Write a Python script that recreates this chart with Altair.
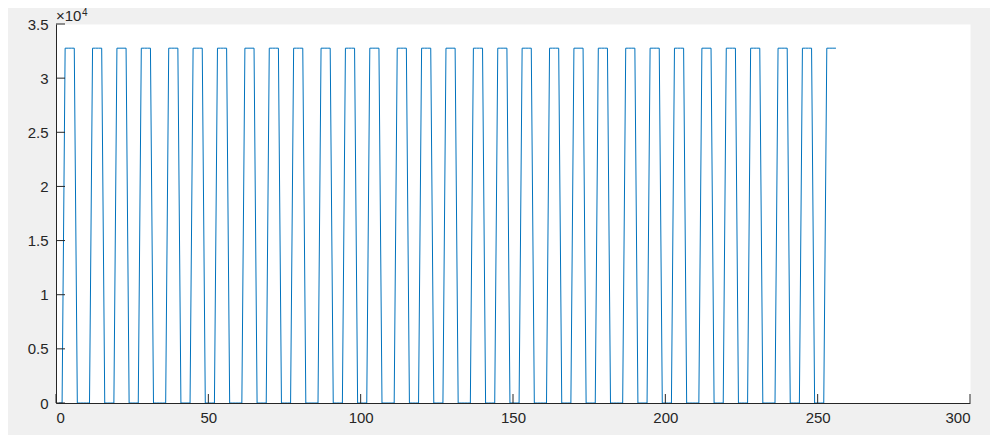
import altair as alt
import pandas as pd

# ---- data ----
N_SAMPLES = 256                     # samples are numbered 1..256
HIGH_VALUE = 32767                  # level of every pulse
LOW_VALUE = 0
PULSE_STARTS = [3, 12, 20, 28, 37, 45, 53, 62, 70, 78, 87, 95, 103, 112, 120, 128,
                137, 145, 153, 162, 170, 178, 187, 195, 203, 212, 220, 228, 237, 245, 253]
PULSE_LENGTH = 4                    # samples held high in each pulse

X_TICKS = [0, 50, 100, 150, 200, 250, 300]
Y_TICKS = [0, 5000, 10000, 15000, 20000, 25000, 30000, 35000]
Y_TICK_LABELS = ["0", "0.5", "1", "1.5", "2", "2.5", "3", "3.5"]
EXPONENT_BASE = "×10"
EXPONENT_POWER = "4"

# ---- tables ----
high = set()
for s in PULSE_STARTS:
    for k in range(PULSE_LENGTH):
        high.add(s + k)
samples = list(range(1, N_SAMPLES + 1))
signal = pd.DataFrame({
    "sample": samples,
    "value": [HIGH_VALUE if s in high else LOW_VALUE for s in samples],
})
xt = pd.DataFrame({"sample": X_TICKS})
yt = pd.DataFrame({"value": Y_TICKS, "label": Y_TICK_LABELS})

W, H = 914, 379
AX = "#262626"
FONT = "Liberation Sans"
FS = 15

label_map = "{" + ",".join(f"'{v}':'{l}'" for v, l in zip(Y_TICKS, Y_TICK_LABELS)) + "}"

xscale = alt.Scale(domain=[0, 300], nice=False, zero=False)
yscale = alt.Scale(domain=[0, 35000], nice=False)

xaxis = alt.Axis(values=X_TICKS, title=None, ticks=False, grid=False,
                 domainColor=AX, domainWidth=1, labelColor=AX,
                 labelFont=FONT, labelFontSize=FS, labelPadding=7)
yaxis = alt.Axis(values=Y_TICKS, title=None, ticks=False, grid=False,
                 domainColor=AX, domainWidth=1, labelColor=AX,
                 labelFont=FONT, labelFontSize=FS, labelPadding=8,
                 labelExpr=f"{label_map}[datum.value + '']")

line = alt.Chart(signal).mark_line(color="#0072bd", strokeWidth=1, clip=True).encode(
    x=alt.X("sample:Q", scale=xscale, axis=xaxis),
    y=alt.Y("value:Q", scale=yscale, axis=yaxis),
)

xticks = alt.Chart(xt).mark_rule(color=AX, strokeWidth=1).encode(
    x=alt.X("sample:Q", scale=xscale, axis=xaxis),
    y=alt.value(H),
    y2=alt.value(H - 9),
)

yticks = alt.Chart(yt).mark_rule(color=AX, strokeWidth=1).encode(
    y=alt.Y("value:Q", scale=yscale, axis=yaxis),
    x=alt.value(0),
    x2=alt.value(9),
)

exp_base = alt.Chart(pd.DataFrame({"t": [EXPONENT_BASE]})).mark_text(
    align="left", baseline="alphabetic", font=FONT, fontSize=FS, color=AX
).encode(x=alt.value(0), y=alt.value(-3), text="t:N")

exp_pow = alt.Chart(pd.DataFrame({"t": [EXPONENT_POWER]})).mark_text(
    align="left", baseline="alphabetic", font=FONT, fontSize=10, color=AX
).encode(x=alt.value(26), y=alt.value(-8), text="t:N")

chart = alt.layer(line, xticks, yticks, exp_base, exp_pow).properties(
    width=W, height=H,
    autosize=alt.AutoSizeParams(type="none"),
    padding={"left": 48, "top": 16, "right": 20, "bottom": 32},
    background="#f0f0f0",
).configure_view(fill="white", stroke="transparent")

chart.save("out.html", embed_options={"renderer": "svg", "actions": False})
